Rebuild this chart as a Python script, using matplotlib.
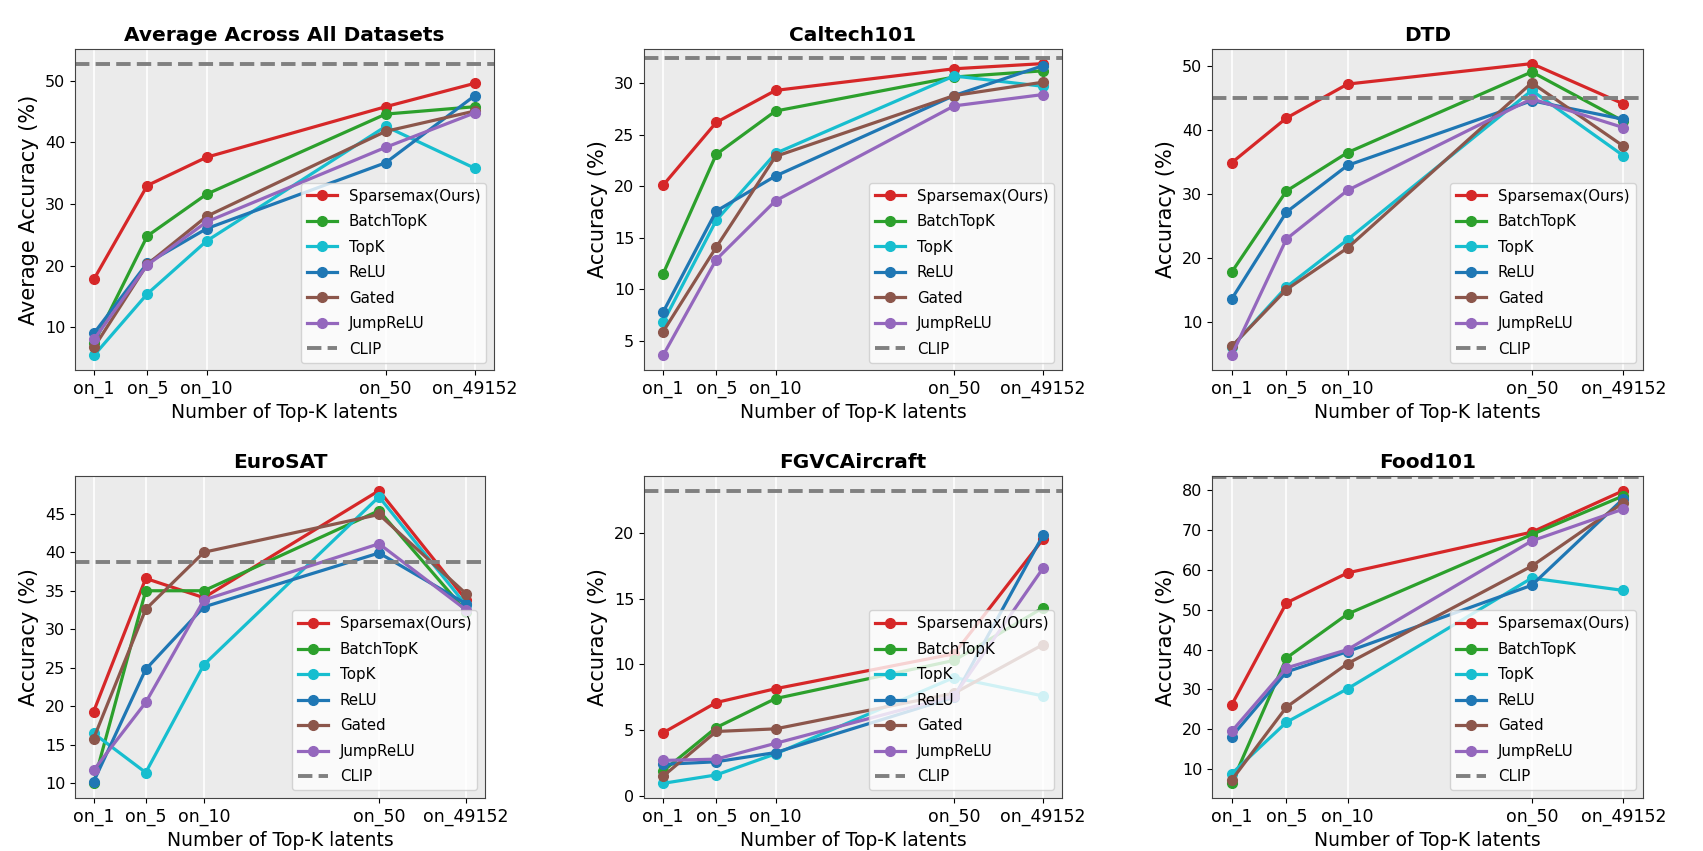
import numpy as np
import matplotlib.pyplot as plt

x_labels = ['on_1', 'on_5', 'on_10', 'on_50', 'on_49152']
x_pos = [0, 1.4, 2.96, 7.66, 10]

methods = ['Sparsemax(Ours)', 'BatchTopK', 'TopK', 'ReLU', 'Gated', 'JumpReLU']
colors = ['#d62728', '#2ca02c', '#17becf', '#1f77b4', '#8c564b', '#9467bd']

titles = ['Average Across All Datasets', 'Caltech101', 'DTD', 'EuroSAT', 'FGVCAircraft', 'Food101']
clip = [52.8, 32.4, 44.9, 38.7, 23.2, 83.2]

# accuracy per method, one row per method (same order as methods)
avg = [[17.8, 33.0, 37.6, 45.8, 49.6],
       [7.4, 24.8, 31.6, 44.6, 45.8],
       [5.4, 15.4, 24.0, 42.6, 35.8],
       [9.0, 20.4, 26.0, 36.7, 47.6],
       [6.7, 20.2, 28.0, 41.8, 45.1],
       [8.0, 20.1, 27.1, 39.2, 44.8]]
caltech = [[20.1, 26.2, 29.3, 31.4, 31.9],
           [11.5, 23.1, 27.3, 30.6, 31.2],
           [6.8, 16.7, 23.2, 30.7, 29.7],
           [7.8, 17.6, 21.0, 28.8, 31.7],
           [5.9, 14.1, 22.9, 28.8, 30.1],
           [3.6, 12.9, 18.6, 27.8, 28.9]]
dtd = [[34.8, 41.8, 47.1, 50.3, 44.0],
       [17.7, 30.4, 36.4, 49.0, 41.3],
       [6.0, 15.4, 22.8, 46.1, 35.9],
       [13.5, 27.1, 34.4, 44.5, 41.6],
       [6.1, 15.0, 21.5, 47.3, 37.4],
       [4.7, 22.9, 30.5, 44.8, 40.3]]
eurosat = [[19.3, 36.6, 34.1, 48.0, 33.8],
           [10.0, 35.0, 35.0, 45.4, 32.3],
           [16.5, 11.4, 25.4, 47.2, 33.1],
           [10.2, 24.8, 32.9, 39.9, 33.3],
           [15.8, 32.6, 40.0, 44.9, 34.6],
           [11.7, 20.5, 33.8, 41.1, 32.5]]
fgvc = [[4.8, 7.1, 8.15, 10.8, 19.5],
        [1.9, 5.2, 7.4, 10.3, 14.3],
        [0.96, 1.6, 3.2, 9.0, 7.6],
        [2.4, 2.6, 3.3, 7.5, 19.8],
        [1.5, 4.9, 5.1, 7.8, 11.5],
        [2.7, 2.8, 4.0, 7.6, 17.3]]
food = [[26.1, 51.7, 59.2, 69.4, 79.8],
        [6.5, 37.9, 48.9, 68.8, 78.5],
        [8.9, 21.8, 30.2, 57.9, 54.8],
        [18.2, 34.4, 39.5, 56.1, 77.8],
        [7.3, 25.6, 36.5, 60.9, 76.8],
        [19.5, 35.4, 40.0, 67.2, 75.2]]
all_data = [avg, caltech, dtd, eurosat, fgvc, food]

# axes boxes in figure fractions [left, bottom, width, height]
boxes = [[0.0440, 0.5652, 0.2460, 0.3772],
         [0.3782, 0.5652, 0.2454, 0.3772],
         [0.7117, 0.5652, 0.2531, 0.3772],
         [0.0440, 0.0623, 0.2407, 0.3784],
         [0.3782, 0.0623, 0.2454, 0.3784],
         [0.7117, 0.0623, 0.2531, 0.3784]]

fig = plt.figure(figsize=(17.03, 8.51), dpi=100)

for i in range(6):
    ax = fig.add_axes(boxes[i])
    ax.set_facecolor('#ebebeb')
    for m in range(6):
        ax.plot(x_pos, all_data[i][m], '-o', color=colors[m], lw=2.3, ms=7, label=methods[m])
    ax.axhline(clip[i], color='gray', ls='--', lw=2.8, label='CLIP')
    ax.set_xticks(x_pos)
    ax.set_xticklabels(x_labels, fontsize=12.5)
    ax.tick_params(axis='y', labelsize=11.5)
    ax.xaxis.grid(True, color='white', lw=1.2)
    ax.set_axisbelow(True)
    for s in ax.spines.values():
        s.set_color('#444444')
    ax.set_title(titles[i], fontsize=14.5, fontweight='bold')
    ax.set_xlabel('Number of Top-K latents', fontsize=13.5)
    ax.set_ylabel('Average Accuracy (%)' if i == 0 else 'Accuracy (%)', fontsize=15)
    ax.legend(loc='lower right', fontsize=10.8, labelspacing=0.7)

fig.savefig('out.png', dpi=100)
